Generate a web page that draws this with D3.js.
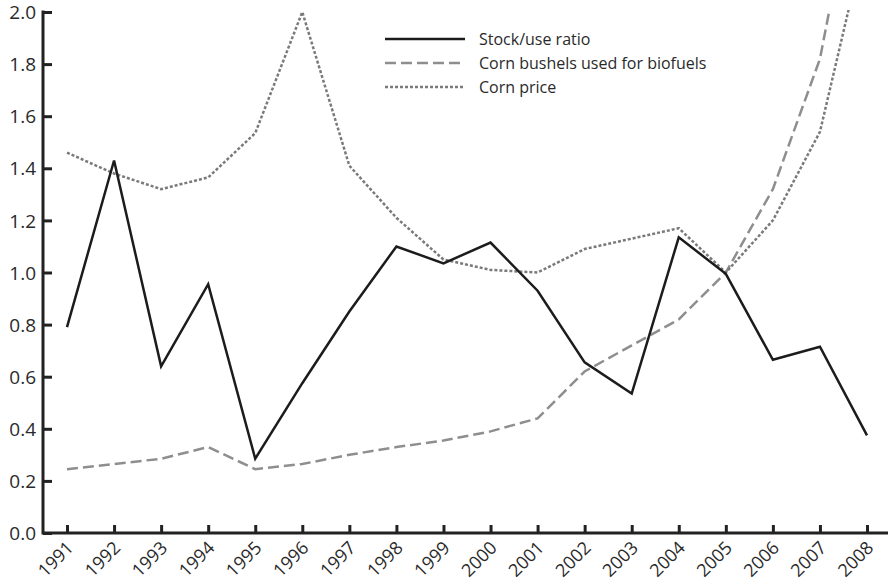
<!DOCTYPE html>
<meta charset="utf-8">
<script src="https://d3js.org/d3.v7.min.js"></script>
<style>
  body { margin: 0; background: #fff; }
  text.tick-label { font-family: "Open Sans", "DejaVu Sans", sans-serif; font-size: 19px; fill: #2a2a2a; }
  .legend text { font-family: "Open Sans", "DejaVu Sans", sans-serif; font-size: 16px; fill: #2a2a2a; }
</style>
<body>
<div id="chart"></div>
<script>
  var years = [1991, 1992, 1993, 1994, 1995, 1996, 1997, 1998, 1999, 2000,
               2001, 2002, 2003, 2004, 2005, 2006, 2007, 2008];
  var stockUse = [0.79, 1.43, 0.64, 0.955, 0.285, 0.575, 0.85, 1.10, 1.035, 1.115,
                  0.93, 0.655, 0.535, 1.135, 0.995, 0.665, 0.715, 0.375];
  var biofuels = [0.245, 0.265, 0.285, 0.33, 0.245, 0.265, 0.30, 0.33, 0.355, 0.39,
                  0.44, 0.62, 0.72, 0.82, 1.0, 1.32, 1.82, 2.75];
  var cornPrice = [1.46, 1.38, 1.32, 1.365, 1.535, 2.0, 1.41, 1.21, 1.05, 1.01,
                   1.0, 1.09, 1.13, 1.17, 1.0, 1.2, 1.54, 2.31];
  var yTicks = [0, 0.2, 0.4, 0.6, 0.8, 1.0, 1.2, 1.4, 1.6, 1.8, 2.0];
  var seriesNames = ["Stock/use ratio", "Corn bushels used for biofuels", "Corn price"];

  var width = 892, height = 584;
  var mLeft = 43, mRight = 888, mTop = 12, mBottom = 533;

  var svg = d3.select("#chart").append("svg")
      .attr("width", width)
      .attr("height", height);

  var x = d3.scalePoint().domain(years).range([67, 867]);
  var y = d3.scaleLinear().domain([0, 2]).range([mBottom, mTop]);

  var styles = [
    {color: "#1c1c1c", dash: null},
    {color: "#8e8e8e", dash: "11,5"},
    {color: "#7a7a7a", dash: "3,2"}
  ];
  var allSeries = [stockUse, biofuels, cornPrice];

  svg.append("clipPath").attr("id", "plot")
    .append("rect").attr("x", mLeft).attr("y", mTop - 2)
    .attr("width", mRight - mLeft).attr("height", mBottom - mTop + 2);

  var line = d3.line()
      .x(function(d, i) { return x(years[i]); })
      .y(function(d) { return y(d); });

  var g = svg.append("g").attr("clip-path", "url(#plot)");
  // draw back to front so the solid line is on top
  [1, 2, 0].forEach(function(k) {
    g.append("path")
      .attr("d", line(allSeries[k]))
      .attr("fill", "none")
      .attr("stroke", styles[k].color)
      .attr("stroke-width", 2.5)
      .attr("stroke-dasharray", styles[k].dash)
      .attr("stroke-linejoin", "miter");
  });

  function styleAxis(sel, size) {
    sel.selectAll("line").attr("stroke", "#222").attr("stroke-width", 3);
    sel.selectAll("text").attr("class", "tick-label")
      .style("font-size", size + "px")
      .style("font-family", "'Open Sans', 'DejaVu Sans', sans-serif");
    sel.select(".domain").remove();
  }

  // y axis, ticks pointing inward
  var yAxis = svg.append("g")
      .attr("transform", "translate(" + mLeft + ",0)")
      .call(d3.axisRight(y).tickValues(yTicks).tickSize(9).tickFormat(d3.format(".1f")).tickSizeOuter(0))
      .call(styleAxis, 19);
  yAxis.selectAll("text").attr("x", -7).attr("text-anchor", "end").attr("dy", "0.35em");
  svg.append("line").attr("x1", mLeft).attr("x2", mLeft).attr("y1", mTop - 1.5).attr("y2", mBottom + 1.5)
    .attr("stroke", "#222").attr("stroke-width", 3);

  // x axis
  var xAxis = svg.append("g")
      .attr("transform", "translate(0," + mBottom + ")")
      .call(d3.axisTop(x).tickSize(8).tickSizeOuter(0))
      .call(styleAxis, 18);
  xAxis.selectAll("text")
    .attr("y", 0).attr("dy", 0)
    .attr("text-anchor", "end")
    .attr("transform", "translate(7,16) rotate(-45)");
  svg.append("line").attr("x1", mLeft).attr("x2", mRight).attr("y1", mBottom).attr("y2", mBottom)
    .attr("stroke", "#222").attr("stroke-width", 3);

  // legend
  var legend = svg.append("g").attr("class", "legend");
  seriesNames.forEach(function(name, k) {
    var ly = 39 + k * 24;
    legend.append("line")
      .attr("x1", 385).attr("x2", 465).attr("y1", ly).attr("y2", ly)
      .attr("stroke", styles[k].color).attr("stroke-width", 2.5)
      .attr("stroke-dasharray", styles[k].dash);
    legend.append("text").attr("x", 479).attr("y", ly).attr("dy", "0.35em").text(name);
  });
</script>
</body>
